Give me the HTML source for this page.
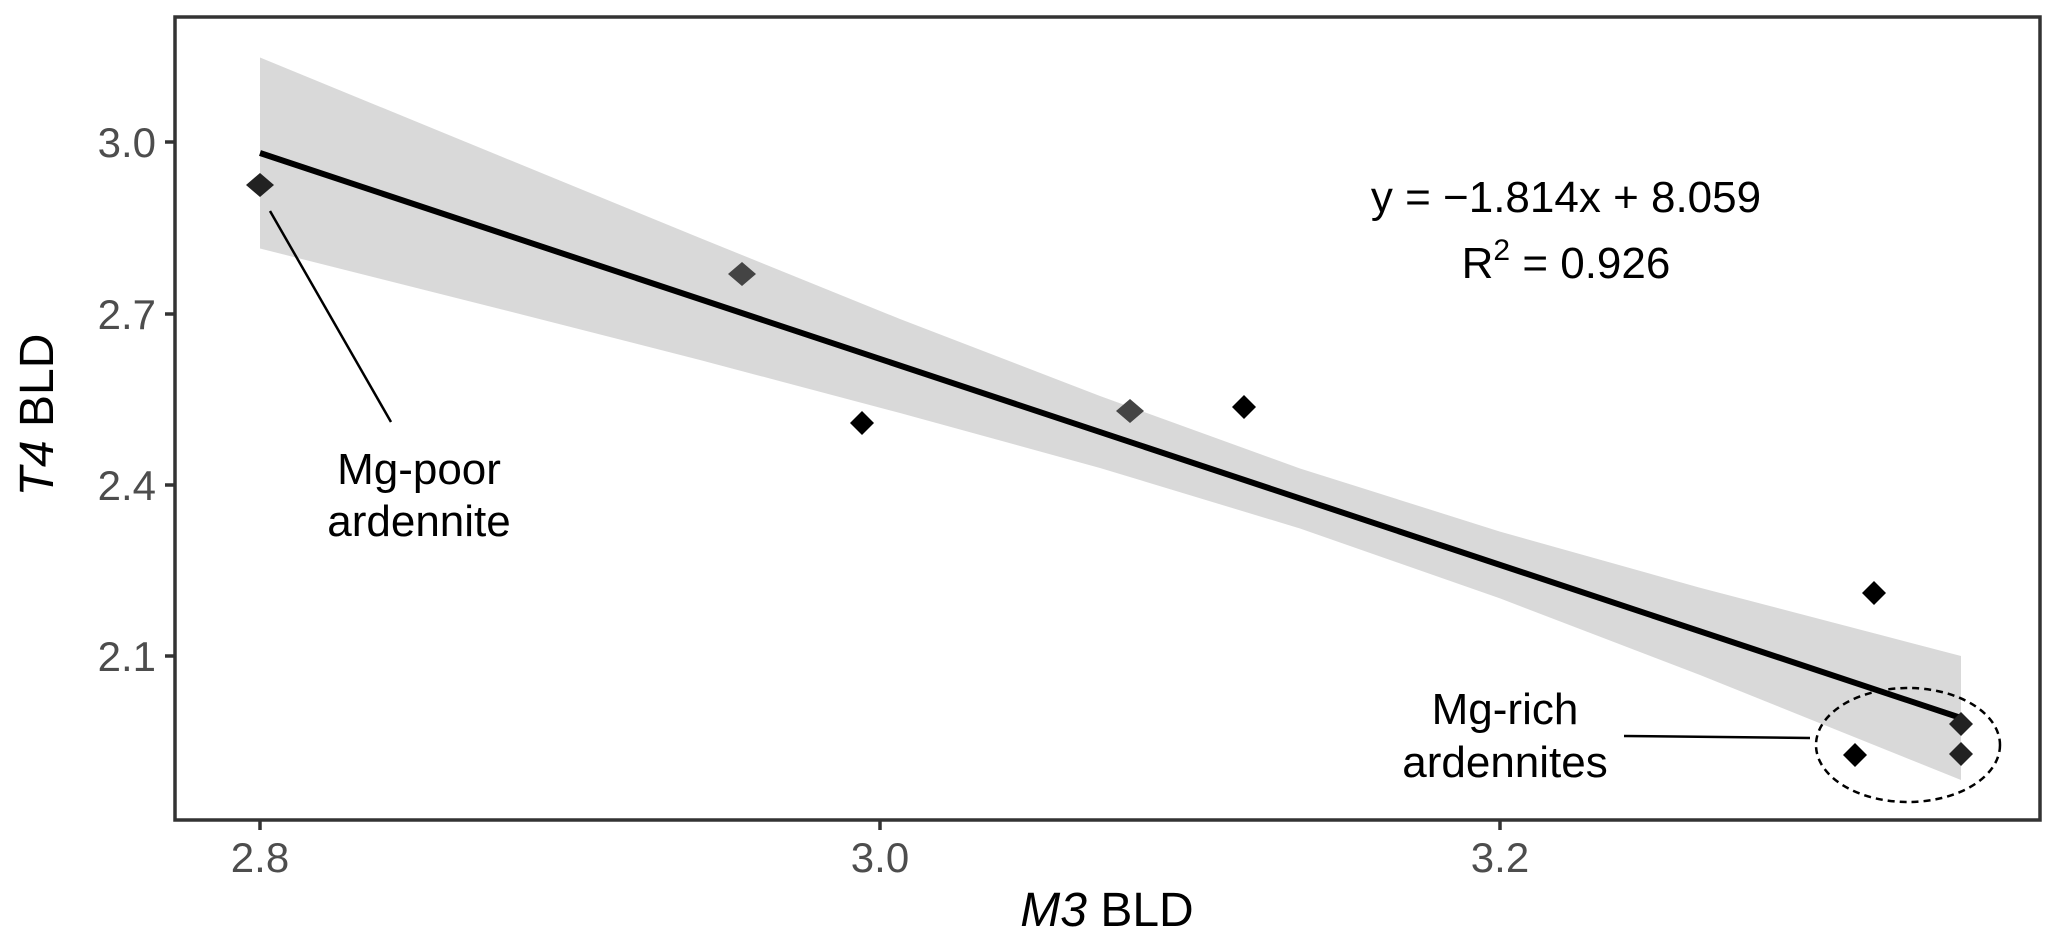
<!DOCTYPE html>
<html><head><meta charset="utf-8"><style>html,body{margin:0;padding:0;background:#fff}</style></head>
<body>
<svg width="2067" height="945" viewBox="0 0 2067 945" xmlns="http://www.w3.org/2000/svg" font-family="Liberation Sans, Arial, sans-serif">
<rect width="2067" height="945" fill="#fff"/>
<polygon fill="#d9d9d9" points="260,57.5 500,156 700,238 900,319 1100,396 1300,468.5 1500,531.6 1700,587.7 1961,656 1961,780 1700,675 1500,598.4 1300,528.5 1100,468 900,413 700,360 500,309 260,248.5"/>
<line x1="260" y1="153" x2="1961" y2="718" stroke="#000" stroke-width="6"/>
<g fill="#000">
<path d="M260,173 l14,12 l-14,12 l-14,-12z" fill="#222"/>
<path d="M742,262 l14,12 l-14,12 l-14,-12z" fill="#444"/>
<path d="M862,411 l12,12 l-12,12 l-12,-12z"/>
<path d="M1130,399 l14,12 l-14,12 l-14,-12z" fill="#444"/>
<path d="M1244,395 l12,12 l-12,12 l-12,-12z"/>
<path d="M1874,581 l12,12 l-12,12 l-12,-12z"/>
<path d="M1961,712 l12,12 l-12,12 l-12,-12z" fill="#222"/>
<path d="M1855,743 l12,12 l-12,12 l-12,-12z"/>
<path d="M1961,742 l12,12 l-12,12 l-12,-12z" fill="#222"/>
</g>
<ellipse cx="1908" cy="745" rx="92" ry="57" fill="none" stroke="#000" stroke-width="2.5" stroke-dasharray="7,5"/>
<line x1="1624" y1="736" x2="1810" y2="738" stroke="#000" stroke-width="2.5"/>
<line x1="270" y1="211" x2="391" y2="422" stroke="#000" stroke-width="2.5"/>
<rect x="175" y="17" width="1865" height="803" fill="none" stroke="#333" stroke-width="3.5"/>
<g stroke="#333" stroke-width="3.5">
<line x1="165" y1="142" x2="175" y2="142"/><line x1="165" y1="314" x2="175" y2="314"/>
<line x1="165" y1="485" x2="175" y2="485"/><line x1="165" y1="656" x2="175" y2="656"/>
<line x1="260" y1="820" x2="260" y2="830"/><line x1="880" y1="820" x2="880" y2="830"/><line x1="1500" y1="820" x2="1500" y2="830"/>
</g>
<g fill="#4d4d4d" font-size="42" text-anchor="end">
<text x="156" y="157">3.0</text><text x="156" y="329">2.7</text><text x="156" y="500">2.4</text><text x="156" y="671">2.1</text>
</g>
<g fill="#4d4d4d" font-size="42" text-anchor="middle">
<text x="260" y="872">2.8</text><text x="880" y="872">3.0</text><text x="1500" y="872">3.2</text>
</g>
<text x="1107" y="926" font-size="48" text-anchor="middle"><tspan font-style="italic">M3</tspan> BLD</text>
<text transform="translate(53,415) rotate(-90)" font-size="48" text-anchor="middle"><tspan font-style="italic">T4</tspan> BLD</text>
<g font-size="44" text-anchor="middle" fill="#000">
<text x="419" y="484">Mg-poor</text><text x="419" y="536">ardennite</text>
<text x="1505" y="724">Mg-rich</text><text x="1505" y="777">ardennites</text>
<text x="1566" y="212">y = −1.814x + 8.059</text>
<text x="1566" y="278">R<tspan dy="-18" font-size="30">2</tspan><tspan dy="18"> = 0.926</tspan></text>
</g>
</svg>
</body></html>
